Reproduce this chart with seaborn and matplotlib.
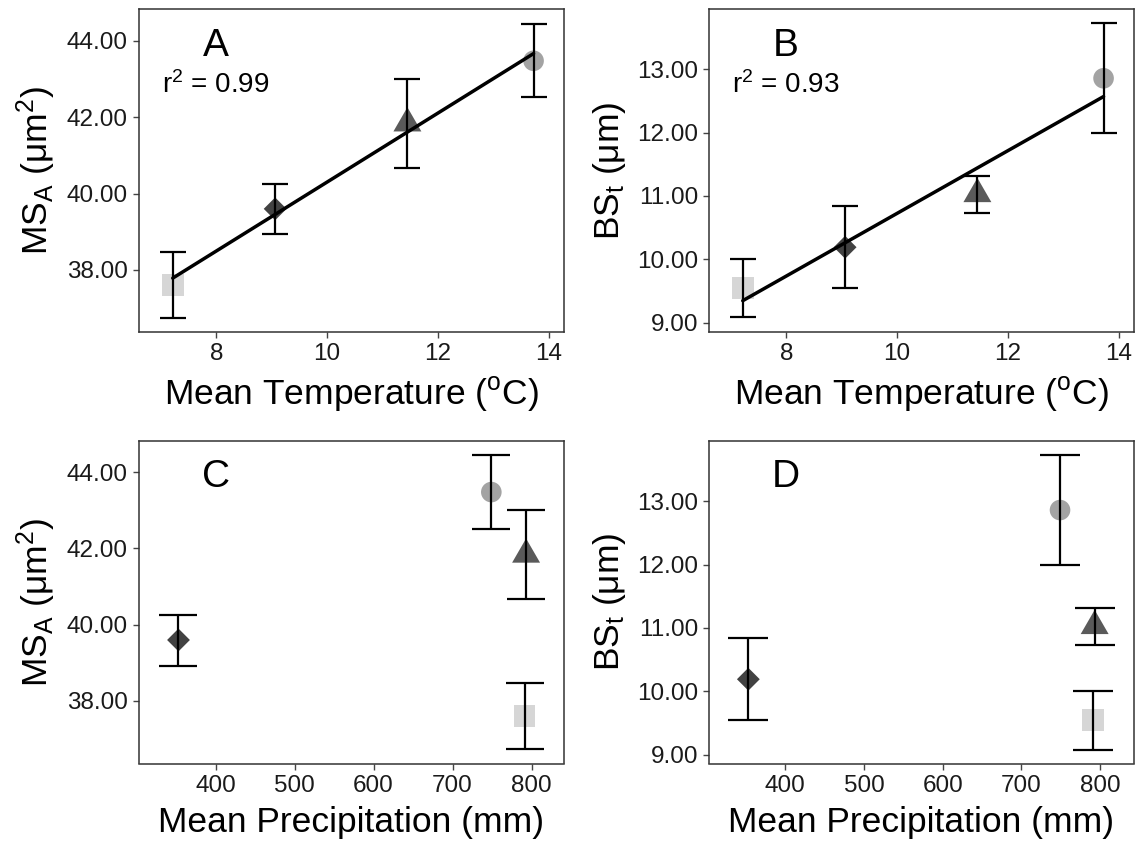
import matplotlib
matplotlib.use("Agg")
import matplotlib.pyplot as plt
import seaborn as sns
import pandas as pd
import numpy as np

# ---- data (order: square, diamond, triangle, circle sites) ----
sites = ["S1", "S2", "S3", "S4"]
temperature = [7.21, 9.06, 11.45, 13.73]
precipitation = [791, 353, 793, 749]
msa_mean = [37.60, 39.60, 41.84, 43.48]
msa_low = [36.75, 38.93, 40.67, 42.52]
msa_high = [38.48, 40.26, 43.00, 44.45]
bst_mean = [9.54, 10.19, 11.03, 12.86]
bst_low = [9.08, 9.55, 10.73, 11.99]
bst_high = [10.01, 10.84, 11.32, 13.73]
r2_labels = ["0.99", "0.93"]
panel_letters = ["A", "B", "C", "D"]

# equilateral triangle centred on its centroid (like R's pch 17)
tri = [(0, 1), (-0.866, -0.5), (0.866, -0.5), (0, 1)]
site_markers = {"S1": "s", "S2": "D", "S3": tri, "S4": "o"}
site_colors = {"S1": "#d6d6d6", "S2": "#424242", "S3": "#5a5a5a", "S4": "#a3a3a3"}
site_sizes = {"S1": 250, "S2": 135, "S3": 540, "S4": 220}

df = pd.DataFrame({
    "site": sites, "temp": temperature, "precip": precipitation,
    "msa": msa_mean, "msa_lo": msa_low, "msa_hi": msa_high,
    "bst": bst_mean, "bst_lo": bst_low, "bst_hi": bst_high,
})

sns.set_theme(style="white")
plt.rcParams["font.family"] = ["Liberation Sans", "DejaVu Sans"]
plt.rcParams["mathtext.fontset"] = "custom"
plt.rcParams["mathtext.rm"] = "Liberation Sans"
plt.rcParams["mathtext.it"] = "Liberation Sans:italic"
plt.rcParams["mathtext.default"] = "regular"

fig = plt.figure(figsize=(11.36, 8.42), dpi=100)
W, H = 1136, 842

def make_ax(l, r, t, b):
    return fig.add_axes([l / W, 1 - b / H, (r - l) / W, (b - t) / H])

axA = make_ax(139, 564, 9.3, 331.7)
axB = make_ax(709, 1134, 9.3, 331.7)
axC = make_ax(139, 564, 441, 763.5)
axD = make_ax(709, 1134, 441, 763.5)

specs = [
    (axA, "temp", "msa", "msa_lo", "msa_hi", True, r"MS$_{A}$ ($\mu$m$^{2}$)",
     r"Mean Temperature ($^{o}$C)", (6.6, 14.28), (36.38, 44.83), [8, 10, 12, 14],
     [38, 40, 42, 44], 9.6, r2_labels[0]),
    (axB, "temp", "bst", "bst_lo", "bst_hi", True, r"BS$_{t}$ ($\mu$m)",
     r"Mean Temperature ($^{o}$C)", (6.6, 14.28), (8.855, 13.95), [8, 10, 12, 14],
     [9, 10, 11, 12, 13], 9.6, r2_labels[1]),
    (axC, "precip", "msa", "msa_lo", "msa_hi", False, r"MS$_{A}$ ($\mu$m$^{2}$)",
     "Mean Precipitation (mm)", (303, 841), (36.36, 44.82), [400, 500, 600, 700, 800],
     [38, 40, 42, 44], 13.7, None),
    (axD, "precip", "bst", "bst_lo", "bst_hi", False, r"BS$_{t}$ ($\mu$m)",
     "Mean Precipitation (mm)", (303, 843), (8.86, 13.95), [400, 500, 600, 700, 800],
     [9, 10, 11, 12, 13], 14.3, None),
]

for (ax, xc, yc, lo, hi, fit, ylab, xlab, xlim, ylim, xt, yt, cap, r2), letter in zip(specs, panel_letters):
    sns.scatterplot(data=df, x=xc, y=yc, hue="site", style="site", size="site",
                    markers=site_markers, palette=site_colors, sizes=site_sizes,
                    linewidth=0, legend=False, ax=ax, zorder=2)
    yerr = np.vstack([df[yc] - df[lo], df[hi] - df[yc]])
    ax.errorbar(df[xc], df[yc], yerr=yerr, fmt="none", ecolor="black",
                elinewidth=1.6, capsize=cap, capthick=1.6, zorder=3)
    if fit:
        sns.regplot(data=df, x=xc, y=yc, scatter=False, ci=None, truncate=True,
                    line_kws={"color": "black", "linewidth": 2.5, "zorder": 4}, ax=ax)
    ax.set_xlim(*xlim)
    ax.set_ylim(*ylim)
    ax.set_xticks(xt)
    ax.set_yticks(yt)
    ax.set_yticklabels([f"{v:.2f}" for v in yt])
    ax.set_xlabel(xlab, fontsize=25.5, color="black", labelpad=7)
    ax.set_ylabel(ylab, fontsize=25.5, color="black", labelpad=6)
    ax.tick_params(axis="both", labelsize=17.5, colors="#1a1a1a", length=4, width=1,
                   direction="out", left=True, bottom=True, pad=4)
    ax.tick_params(axis="both", color="#444444")
    for s in ax.spines.values():
        s.set_color("#333333")
        s.set_linewidth(1.1)
    ax.grid(False)
    ax.text(0.18, 0.887, letter, transform=ax.transAxes, fontsize=28,
            ha="center", va="center", color="black")
    if r2 is not None:
        ax.text(0.055, 0.765, r"r$^{2}$ = " + r2, transform=ax.transAxes, fontsize=20,
                ha="left", va="center", color="black")

fig.savefig("out.png", dpi=100)
